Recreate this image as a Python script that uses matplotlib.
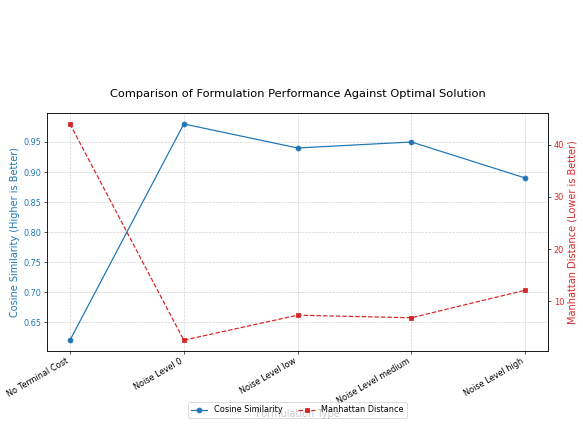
import matplotlib
matplotlib.use("Agg")
import matplotlib.pyplot as plt

categories = ["No Terminal Cost", "Noise Level 0", "Noise Level low", "Noise Level medium", "Noise Level high"]
cosine = [0.62, 0.98, 0.94, 0.95, 0.89]
manhattan = [44.0, 2.5, 7.3, 6.8, 12.1]

DPI = 58.3
fig, ax1 = plt.subplots(figsize=(583 / DPI, 427 / DPI), dpi=DPI)
fig.subplots_adjust(left=0.081, right=0.94, bottom=0.178, top=0.735)

x = list(range(len(categories)))
l1, = ax1.plot(x, cosine, color="tab:blue", marker="o", linestyle="-", label="Cosine Similarity")
ax1.set_ylabel("Cosine Similarity (Higher is Better)", color="tab:blue", fontsize=12)
ax1.tick_params(axis="y", labelcolor="tab:blue")
ax1.set_xticks(x)
ax1.set_xticklabels(categories, rotation=30, ha="right")
ax1.set_xlabel("Formulation Type", fontsize=12)
ax1.grid(True, linestyle="--", alpha=0.6)

ax2 = ax1.twinx()
l2, = ax2.plot(x, manhattan, color="tab:red", marker="s", linestyle="--", label="Manhattan Distance")
ax2.set_ylabel("Manhattan Distance (Lower is Better)", color="tab:red", fontsize=12)
ax2.tick_params(axis="y", labelcolor="tab:red")

ax1.set_title("Comparison of Formulation Performance Against Optimal Solution", fontsize=14, pad=20)

fig.legend([l1, l2], ["Cosine Similarity", "Manhattan Distance"], loc="center",
           bbox_to_anchor=(0.51, 0.04), ncol=2)

fig.savefig("out.png", dpi=DPI)
